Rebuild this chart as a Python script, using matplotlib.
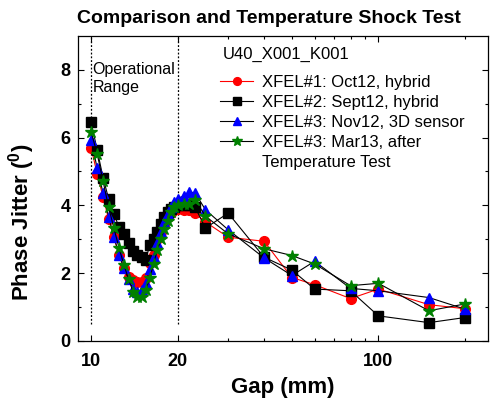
import matplotlib
matplotlib.use("Agg")
import matplotlib.pyplot as plt
from matplotlib.lines import Line2D
from matplotlib.ticker import FixedLocator, NullFormatter, FixedFormatter

plt.rcParams['font.family'] = ['Liberation Sans', 'DejaVu Sans']
plt.rcParams['mathtext.fontset'] = 'custom'
plt.rcParams['mathtext.rm'] = 'Liberation Sans'
plt.rcParams['mathtext.bf'] = 'Liberation Sans:bold'

# ---------------- data ----------------
gap = [10, 10.5, 11, 11.5, 12, 12.5, 13, 13.5, 14, 14.5, 15, 15.5, 16, 16.5,
       17, 17.5, 18, 18.5, 19, 19.5, 20, 21, 22, 23, 25, 30, 40, 50, 60, 80,
       100, 150, 200]

xfel1_oct12 = [5.70, 4.92, 4.25, 3.60, 3.06, 2.55, 2.15, 1.88, 1.80, 1.75, 1.75,
               1.85, 2.30, 2.55, 3.00, 3.20, 3.45, 3.65, 3.78, 3.85, 3.90, 3.85,
               3.85, 3.77, 3.51, 3.06, 2.94, 1.87, 1.66, 1.25, 1.53, 1.07, 0.95]
xfel2_sept12 = [6.45, 5.63, 4.82, 4.20, 3.75, 3.36, 3.15, 2.90, 2.65, 2.55, 2.48,
                2.40, 2.83, 3.00, 3.20, 3.45, 3.65, 3.80, 3.90, 3.95, 4.00, 4.00,
                4.00, 3.95, 3.33, 3.77, 2.47, 2.09, 1.53, 1.48, 0.74, 0.54, 0.69]
xfel3_nov12 = [5.93, 5.09, 4.37, 3.67, 3.08, 2.55, 2.15, 1.83, 1.53, 1.45, 1.50,
               1.70, 2.12, 2.47, 2.90, 3.20, 3.50, 3.75, 3.95, 4.10, 4.20, 4.28,
               4.39, 4.37, 3.87, 3.28, 2.45, 1.93, 2.35, 1.55, 1.48, 1.28, 0.94]
xfel3_mar13 = [6.17, 5.51, 4.72, 3.95, 3.33, 2.75, 2.25, 1.82, 1.45, 1.30, 1.30,
               1.50, 1.85, 2.28, 2.68, 3.00, 3.30, 3.55, 3.80, 3.95, 4.02, 4.05,
               4.05, 4.17, 3.68, 3.16, 2.72, 2.52, 2.27, 1.63, 1.70, 0.89, 1.09]

labels = ["XFEL#1: Oct12, hybrid", "XFEL#2: Sept12, hybrid",
          "XFEL#3: Nov12, 3D sensor", "XFEL#3: Mar13, after"]
label_cont = "Temperature Test"
legend_title = "U40_X001_K001"
x_tick_vals = [10, 20, 100]
x_tick_labels = ["10", "20", "100"]
x_minor_vals = [30, 40, 50, 60, 70, 80, 90, 200]
y_tick_vals = [0, 2, 4, 6, 8]
y_minor_vals = [1, 3, 5, 7]
op_range = [10, 20]

# ---------------- figure ----------------
fig = plt.figure(figsize=(4.91, 4.03), dpi=100)
ax = fig.add_axes([0.158, 0.154, 0.836, 0.757])

lw = 0.8
ax.plot(gap, xfel1_oct12, color='#ff0000', lw=lw, marker='o', ms=7,
        mfc='#ff0000', mec='#ff0000', label=labels[0], zorder=3)
ax.plot(gap, xfel2_sept12, color='black', lw=lw, marker='s', ms=6.5,
        mfc='black', mec='black', label=labels[1], zorder=4)
ax.plot(gap, xfel3_nov12, color='black', lw=lw, marker='^', ms=7.5,
        mfc='#0000ff', mec='#0000ff', label=labels[2], zorder=5)
ax.plot(gap, xfel3_mar13, color='black', lw=lw, marker='*', ms=9,
        mfc='#008000', mec='#008000', label=labels[3], zorder=6)

for xv in op_range:
    ax.axvline(xv, ymin=0.5 / 9, ymax=1, color='black', lw=0.9,
               ls=(0, (1.5, 1.5)), zorder=2)

ax.text(10.12, 8.22, "Operational\nRange", fontsize=11.5, va='top', ha='left',
        linespacing=1.25)

ax.set_xscale('log')
ax.set_xlim(8.97, 241)
ax.set_ylim(0, 9)

ax.xaxis.set_major_locator(FixedLocator(x_tick_vals))
ax.xaxis.set_major_formatter(FixedFormatter(x_tick_labels))
ax.xaxis.set_minor_locator(FixedLocator(x_minor_vals))
ax.xaxis.set_minor_formatter(NullFormatter())
ax.yaxis.set_major_locator(FixedLocator(y_tick_vals))
ax.yaxis.set_minor_locator(FixedLocator(y_minor_vals))

ax.tick_params(which='both', direction='in', top=True, right=True, width=0.8)
ax.tick_params(which='major', length=4.5, labelsize=13)
ax.tick_params(axis='x', which='major', pad=9)
ax.tick_params(axis='y', which='major', pad=5)
ax.tick_params(which='minor', length=2.3)
for lab in ax.get_xticklabels() + ax.get_yticklabels():
    lab.set_fontweight('bold')
for s in ax.spines.values():
    s.set_linewidth(0.9)

ax.set_xlabel("Gap (mm)", fontsize=16, fontweight='bold', labelpad=5)
ax.set_ylabel(r"Phase Jitter ($^{\mathbf{0}}$)", fontsize=16,
              fontweight='bold')
ax.yaxis.set_label_coords(-0.098, 0.39)
ax.set_title("Comparison and Temperature Shock Test", fontsize=14,
             fontweight='bold', loc='left', pad=9, x=-0.002)

ax.text(0.354, (341 - 55) / 305, legend_title, transform=ax.transAxes,
        fontsize=12, va='center', ha='left')

handles, labs = ax.get_legend_handles_labels()
handles.append(Line2D([], [], linestyle='none', marker='none'))
labs.append(label_cont)
leg = ax.legend(handles, labs, loc='upper left',
                bbox_to_anchor=(0.347, (341 - 75) / 305), frameon=False,
                fontsize=12, handlelength=2.0, handletextpad=0.5,
                labelspacing=0.3, borderpad=0, borderaxespad=0,
                markerscale=0.8)

fig.savefig("out.png", dpi=100)
